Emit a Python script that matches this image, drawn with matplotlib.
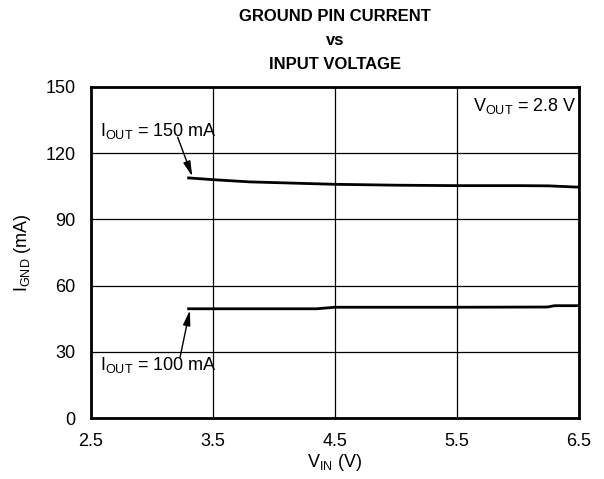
import matplotlib
matplotlib.use("Agg")
import matplotlib.pyplot as plt

plt.rcParams['font.family'] = ['Liberation Sans', 'DejaVu Sans']

# data
vin_150 = [3.3, 3.5, 3.8, 4.5, 5.0, 5.5, 6.0, 6.25, 6.5]
ignd_150 = [108.8, 108.0, 107.0, 105.9, 105.5, 105.3, 105.3, 105.2, 104.6]
vin_100 = [3.3, 3.8, 4.35, 4.5, 5.5, 6.24, 6.3, 6.5]
ignd_100 = [49.5, 49.5, 49.5, 50.2, 50.2, 50.3, 50.9, 50.9]

xticks = [2.5, 3.5, 4.5, 5.5, 6.5]
yticks = [0, 30, 60, 90, 120, 150]

fig = plt.figure(figsize=(6.04, 4.79), dpi=100)
ax = fig.add_axes([0.1507, 0.1273, 0.8079, 0.6911])

ax.plot(vin_150, ignd_150, color='black', lw=2)
ax.plot(vin_100, ignd_100, color='black', lw=2)

ax.set_xlim(2.5, 6.5)
ax.set_ylim(0, 150)
ax.set_xticks(xticks)
ax.set_yticks(yticks)
ax.set_xticklabels([str(x) for x in xticks])
ax.grid(True, color='black', lw=0.9)
ax.tick_params(length=0, labelsize=13, pad=11)
ax.tick_params(axis='y', pad=11)
for s in ax.spines.values():
    s.set_linewidth(2)

ax.set_xlabel(r'V$_{\mathregular{IN}}$ (V)', fontsize=13, labelpad=1)
ax.set_ylabel(r'I$_{\mathregular{GND}}$ (mA)', fontsize=13, labelpad=9)

# labels and pointer arrows
ax.text(2.57, 130, r'I$_{\mathregular{OUT}}$ = 150 mA', fontsize=13, va='center')
ax.text(2.57, 24, r'I$_{\mathregular{OUT}}$ = 100 mA', fontsize=13, va='center')
arrow = dict(arrowstyle='-|>,head_length=0.9,head_width=0.22', color='black',
             lw=1, shrinkA=0, shrinkB=0)
ax.annotate('', xy=(3.33, 109.5), xytext=(3.21, 127.3), arrowprops=arrow)
ax.annotate('', xy=(3.31, 48.8), xytext=(3.23, 27.6), arrowprops=arrow)

ax.text(6.48, 146, r'V$_{\mathregular{OUT}}$ = 2.8 V', fontsize=13, ha='right', va='top')

fig.text(0.5547, 0.982, 'GROUND PIN CURRENT\nvs\nINPUT VOLTAGE', ha='center', va='top',
         fontsize=12, fontweight='bold', linespacing=1.75)

fig.savefig('out.png', dpi=100)
